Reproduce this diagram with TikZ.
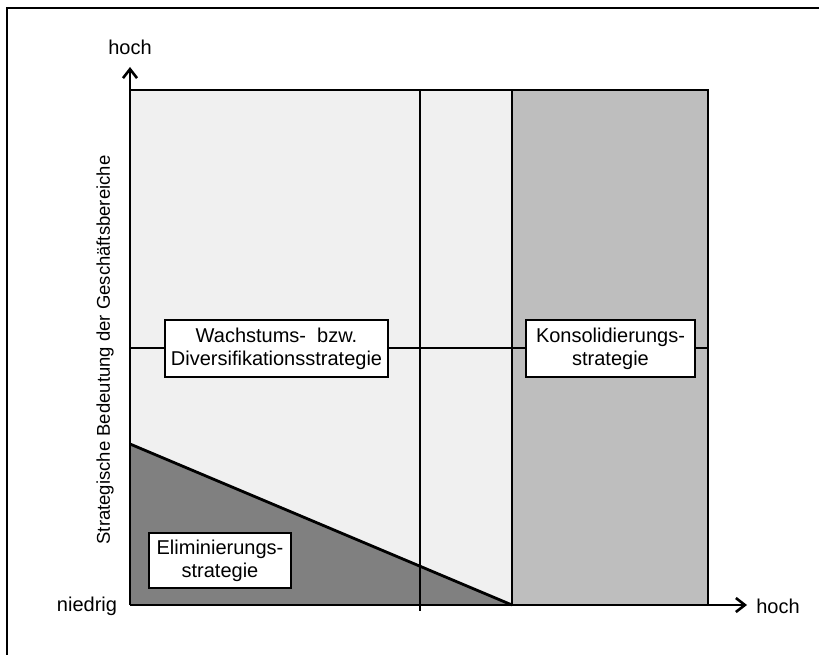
\documentclass[tikz,border=0pt]{standalone}
\usepackage{fontspec}
\setmainfont{Liberation Sans}
\usetikzlibrary{arrows.meta}
\definecolor{fieldlight}{HTML}{F0F0F0}
\definecolor{fieldmid}{HTML}{BEBEBE}
\definecolor{fielddark}{HTML}{808080}
\begin{document}
\begin{tikzpicture}[x=1pt,y=-1pt,
  thick line/.style={line width=2.8pt,black},
  thin line/.style={line width=1.1pt,black},
  axis/.style={line width=2.8pt,-{Straight Barb[length=9pt,width=14pt,line width=2.6pt]}},
  label/.style={font=\fontsize{20}{23}\selectfont,inner sep=0pt},
  strategybox/.style={draw=black,line width=1.3pt,fill=white,align=center,
    font=\fontsize{20}{23}\selectfont,inner sep=0pt}]
  \useasboundingbox (0,0) rectangle (819,655);
  % outer frame
  \draw[line width=2.2pt] (7,670) -- (7,8) -- (830,8);

  % fields
  \fill[fieldlight] (130,90) rectangle (512,605);
  \fill[fieldmid] (512,90) rectangle (708,605);
  \fill[fielddark] (130,444) -- (512,605) -- (130,605) -- cycle;

  % grid lines
  \coordinate (vtop) at (420,90);
  \coordinate (vbot) at (420,611);
  \coordinate (hl) at (130,348);
  \coordinate (hr) at (708,348);
  \draw[thin line] (vtop) -- (vbot);
  \draw[thin line] (hl) -- (hr);

  % border of the field area
  \coordinate (tl) at (130,90);
  \coordinate (tm) at (512,90);
  \coordinate (tr) at (708,90);
  \coordinate (bm) at (512,605);
  \coordinate (br) at (708,605);
  \coordinate (dl) at (130,444);
  \draw[thick line] (tl) -- (tr) -- (br);
  \draw[thick line] (tm) -- (bm);
  \draw[thick line] (dl) -- (bm);

  % axes
  \coordinate (origin) at (130,605);
  \coordinate (ytip) at (130,67);
  \coordinate (xtip) at (747,605);
  \draw[axis] (origin) -- (ytip);
  \draw[axis] (origin) -- (xtip);

  \node[label] (yhigh) at (130,47) {hoch};
  \node[label] (xhigh) at (778,606) {hoch};
  \node[label] (low) at (87,606) {niedrig};
  \node[label,font=\fontsize{18.5}{22}\selectfont,rotate=90] (ylabel) at (105,350)
    {Strategische Bedeutung der Geschäftsbereiche};

  % strategy boxes
  \node[strategybox,minimum width=223pt,minimum height=57pt] (growth) at (276.5,348.5)
    {Wachstums-\ \ bzw.\\Diversifikationsstrategie};
  \node[strategybox,minimum width=169pt,minimum height=57pt] (consol) at (610.5,348.5)
    {Konsolidierungs-\\strategie};
  \node[strategybox,minimum width=142pt,minimum height=55pt] (elim) at (220,560.5)
    {Eliminierungs-\\strategie};
\end{tikzpicture}
\end{document}
